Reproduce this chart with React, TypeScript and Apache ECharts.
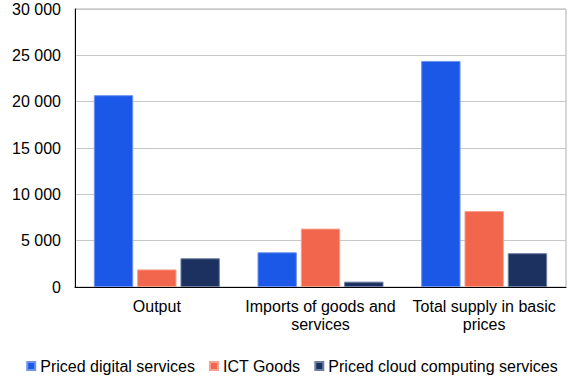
import React, { useEffect, useRef } from "react";
import * as echarts from "echarts";

const categories = ["Output", "Imports of goods and\nservices", "Total supply in basic\nprices"];
const pricedDigital = [20700, 3750, 24400];
const ictGoods = [1900, 6300, 8200];
const pricedCloud = [3100, 580, 3650];
const seriesNames = ["Priced digital services", "ICT Goods", "Priced cloud computing services"];
const colors = ["#1c58e8", "#f1664d", "#1d3161"];
const borderColors = ["#6f93ef", "#f6a08f", "#6f7fa5"];

export default function App() {
  const ref = useRef<HTMLDivElement>(null);
  useEffect(() => {
    document.body.style.margin = "0";
    const chart = echarts.init(ref.current!, null, { renderer: "svg" });
    const font = "Arial, 'Liberation Sans', sans-serif";
    const data = [pricedDigital, ictGoods, pricedCloud];
    chart.setOption({
      animation: false,
      textStyle: { fontFamily: font },
      grid: { left: 75, right: 18, top: 9, bottom: 98, show: true, borderColor: "#b0b0b0", borderWidth: 1 },
      legend: {
        bottom: 6,
        left: "center",
        icon: "rect",
        itemWidth: 8,
        itemHeight: 8,
        itemGap: 14,
        textStyle: { fontSize: 16, color: "#000", fontFamily: font },
        data: seriesNames,
      },
      xAxis: {
        type: "category",
        data: categories,
        axisLine: { lineStyle: { color: "#000", width: 1 } },
        axisTick: { show: false },
        axisLabel: { color: "#000", fontSize: 16, fontFamily: font, margin: 10, lineHeight: 18, interval: 0 },
      },
      yAxis: {
        type: "value",
        min: 0,
        max: 30000,
        interval: 5000,
        axisLine: { show: true, lineStyle: { color: "#000", width: 1 } },
        axisTick: { show: false },
        splitLine: { lineStyle: { color: "#c8c8c8", width: 1 } },
        axisLabel: {
          color: "#000",
          fontSize: 16,
          fontFamily: font,
          margin: 14,
          formatter: (v: number) => String(v).replace(/\B(?=(\d{3})+(?!\d))/g, " "),
        },
      },
      series: seriesNames.map((name, i) => ({
        name,
        type: "bar",
        data: data[i],
        barGap: "10%",
        barCategoryGap: "23%",
        itemStyle: { color: colors[i], borderColor: borderColors[i], borderWidth: 1 },
      })),
    });
    return () => chart.dispose();
  }, []);
  return <div ref={ref} style={{ width: 584, height: 385 }} />;
}
